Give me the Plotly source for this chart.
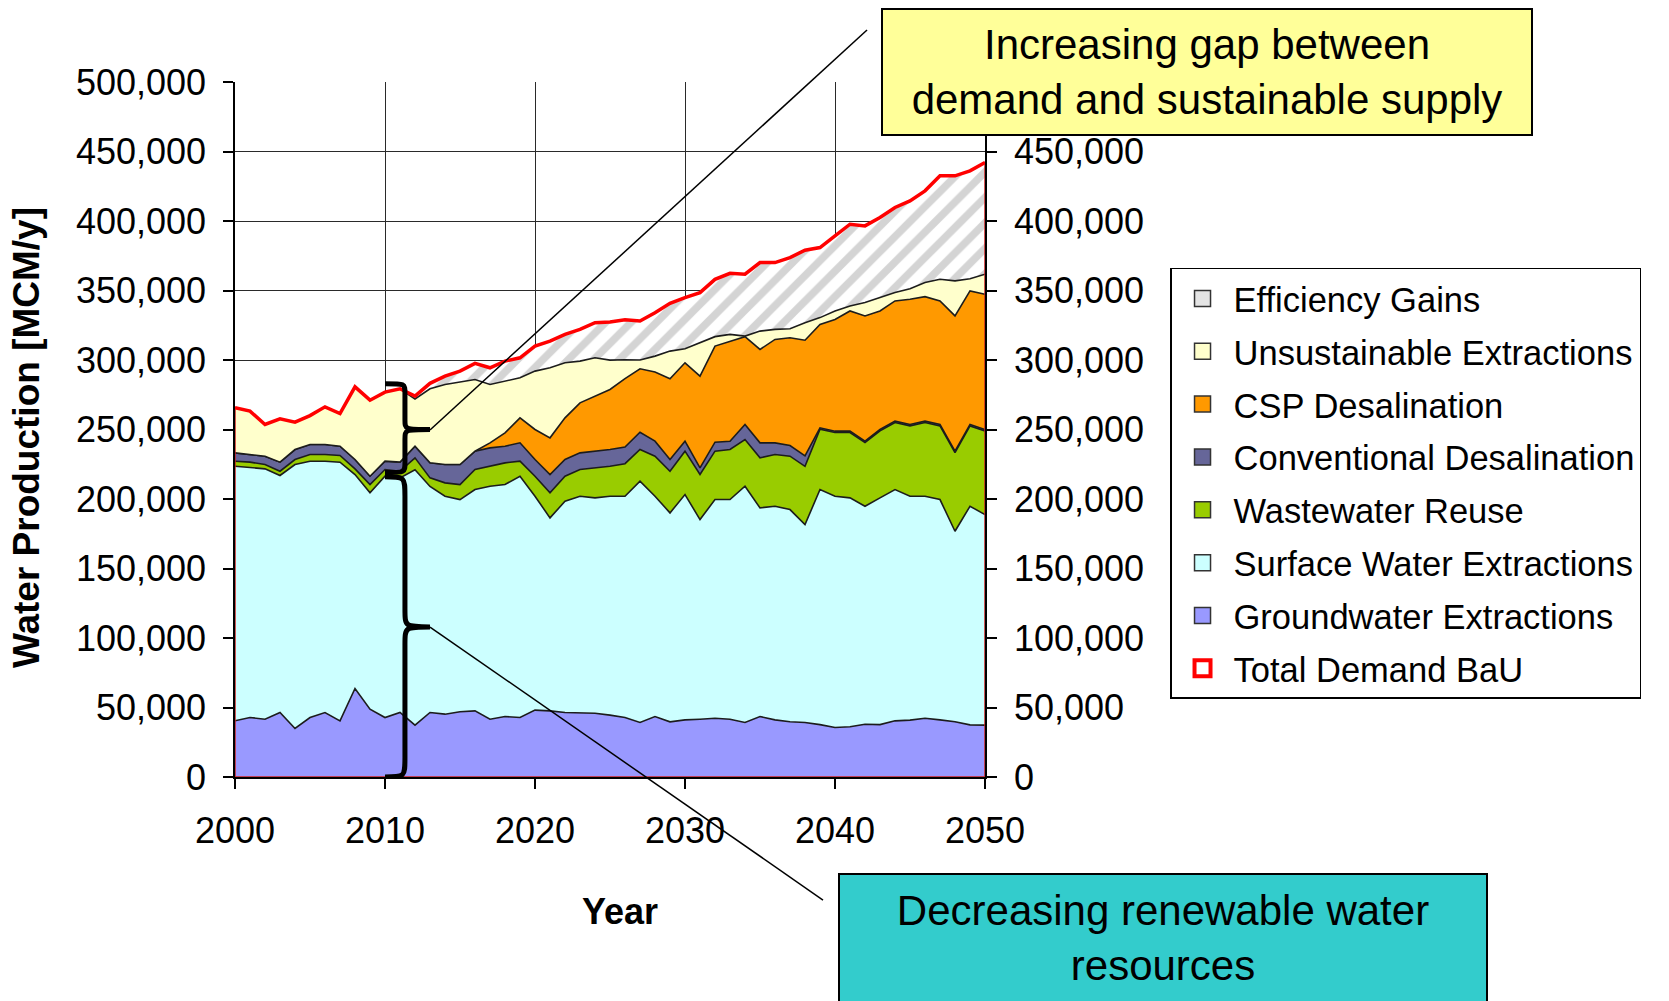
import plotly.graph_objects as go

years = list(range(2000, 2051))

groundwater = [40400, 42800, 41600, 46400, 34900, 42800, 46400, 40400, 63700, 48800,
               42800, 46400, 37300, 46400, 45200, 46900, 47600, 41600, 43500, 42800,
               48100, 47600, 46400, 46400, 45900, 44500, 42800, 39200, 43500, 39700,
               41100, 41600, 42300, 41600, 39200, 43500, 41100, 39700, 39200, 37700,
               35600, 36100, 38000, 37700, 40400, 40900, 42300, 41100, 39700, 37500, 37300]

surface_top = [223600, 222400, 221700, 216900, 224800, 227200, 227200, 226500, 217600, 204400,
               216400, 215200, 221000, 209000, 202000, 199600, 206800, 209200, 210400, 216400,
               202000, 186400, 198400, 202000, 200800, 202000, 202000, 212800, 202000, 190000,
               203200, 185200, 199600, 199600, 209200, 193600, 194800, 192400, 181600, 206800,
               202000, 200800, 194800, 200800, 206800, 202000, 202000, 199600, 176800, 194800, 188800]

wastewater_top = [227200, 226500, 224800, 220000, 228400, 232000, 232000, 231300, 221700, 210400,
                  221200, 220000, 229600, 215200, 211600, 210400, 221200, 223600, 226000, 227200,
                  216400, 204400, 216400, 221200, 222400, 223600, 225400, 235600, 230800, 220000,
                  234400, 217600, 234400, 235600, 242800, 229600, 232000, 230800, 223500, 250200,
                  247800, 247800, 240600, 249000, 255000, 252600, 255000, 252600, 233400, 252600, 249000]

conventional_top = [233200, 232000, 230800, 226500, 235600, 239200, 239200, 238000, 228400, 216400,
                    227200, 226500, 238000, 226000, 224800, 224800, 234400, 236800, 238000, 240400,
                    228400, 217600, 228400, 233200, 234400, 235600, 237400, 248000, 241600, 228400,
                    241600, 222400, 240900, 241600, 253600, 240400, 240400, 238500, 231000, 251200,
                    248800, 248800, 241600, 250000, 256000, 253600, 256000, 253600, 234400, 253600, 250000]

csp_top = [233200, 232000, 230800, 226500, 235600, 239200, 239200, 238000, 228400, 216400,
           227200, 226500, 238000, 226000, 224800, 224800, 234400, 240400, 247600, 258400,
           250000, 244000, 258400, 269200, 274000, 278800, 286600, 293700, 291300, 286500,
           298000, 288400, 310000, 313600, 316800, 307600, 314800, 316000, 314200, 325600,
           329200, 335300, 331700, 335300, 342500, 343700, 345600, 342500, 331700, 349700, 347300]

unsustainable_top = [265600, 263200, 253600, 257700, 255300, 260000, 266300, 261500, 280700, 271100,
                     276900, 279300, 272000, 279300, 282400, 284100, 286000, 282400, 284800, 287200,
                     292000, 294400, 298000, 299200, 301600, 299900, 300200, 300000, 302800, 306400,
                     308100, 312400, 316800, 318400, 317200, 320800, 322000, 322500, 326800, 330500,
                     335300, 338900, 341300, 344900, 348500, 351300, 355700, 358100, 356900, 358500, 361700]

total_demand = [265600, 263200, 253600, 257700, 255300, 260000, 266300, 261500, 280700, 271100,
                276900, 279300, 274000, 283200, 288400, 292000, 297600, 294400, 299200, 301600,
                310000, 313600, 318400, 322000, 326800, 327300, 329000, 328000, 334000, 340800,
                344900, 348500, 358000, 362400, 361700, 370100, 370100, 373700, 379000, 380900,
                389300, 397700, 396500, 402500, 409700, 414500, 421700, 432500, 432500, 436100, 442100]

y_ticks = [0, 50000, 100000, 150000, 200000, 250000, 300000, 350000, 400000, 450000, 500000]
y_ticks_right = [0, 50000, 100000, 150000, 200000, 250000, 300000, 350000, 400000, 450000]
x_ticks = [2000, 2010, 2020, 2030, 2040, 2050]

FONT = "Liberation Sans, Arial, sans-serif"
EDGE = "#1c1c1c"

fig = go.Figure()

layers = [
    ("Groundwater Extractions", groundwater, "#9999FF", "tozeroy"),
    ("Surface Water Extractions", surface_top, "#CCFFFF", "tonexty"),
    ("Wastewater Reuse", wastewater_top, "#99CC00", "tonexty"),
    ("Conventional Desalination", conventional_top, "#666699", "tonexty"),
    ("CSP Desalination", csp_top, "#FF9900", "tonexty"),
    ("Unsustainable Extractions", unsustainable_top, "#FFFFCC", "tonexty"),
]
for name, vals, color, fillmode in layers:
    fig.add_trace(go.Scatter(
        x=years, y=vals, name=name, mode="lines", fill=fillmode,
        fillcolor=color, line=dict(color=EDGE, width=1.6),
        showlegend=False, hoverinfo="skip"))

fig.add_trace(go.Scatter(
    x=years, y=total_demand, name="Efficiency Gains", mode="lines", fill="tonexty",
    fillcolor="white",
    fillpattern=dict(shape="/", bgcolor="white", fgcolor="#a9a9a9", size=18, solidity=0.42),
    line=dict(color="rgba(0,0,0,0)", width=0),
    showlegend=False, hoverinfo="skip"))

# red outline of total demand (sides and bottom)
fig.add_trace(go.Scatter(
    x=[years[0]] + years + [years[-1], years[0]],
    y=[0] + total_demand + [0, 0],
    mode="lines", line=dict(color="#cc2222", width=1.5),
    showlegend=False, hoverinfo="skip"))

fig.add_trace(go.Scatter(
    x=years, y=total_demand, mode="lines", line=dict(color="#FF0000", width=3.5),
    showlegend=False, hoverinfo="skip"))

# legend entries (square swatches as in the reference)
legend_items = [
    ("Efficiency Gains", "#e4e4e4", "square", "#333333", 1.5),
    ("Unsustainable Extractions", "#FFFFCC", "square", "#333333", 1.5),
    ("CSP Desalination", "#FF9900", "square", "#333333", 1.5),
    ("Conventional Desalination", "#666699", "square", "#333333", 1.5),
    ("Wastewater Reuse", "#99CC00", "square", "#333333", 1.5),
    ("Surface Water Extractions", "#CCFFFF", "square", "#333333", 1.5),
    ("Groundwater Extractions", "#9999FF", "square", "#333333", 1.5),
    ("Total Demand BaU", "#FF0000", "square-open", "#FF0000", 4),
]
for i, (name, color, symbol, lc, lw) in enumerate(legend_items):
    fig.add_trace(go.Scatter(
        x=[None], y=[None], name=name, mode="markers", yaxis="y2",
        marker=dict(symbol=symbol, size=22, color=color, line=dict(width=lw, color=lc)),
        legendrank=i + 1, legendgroup=name, hoverinfo="skip"))

axis_common = dict(
    tickfont=dict(family=FONT, size=36, color="black"),
    ticks="outside", ticklen=10, tickcolor="black", tickwidth=1.5,
    showline=True, linecolor="black", linewidth=1.5, zeroline=False,
)

fig.update_layout(
    width=1669, height=1001,
    margin=dict(l=235, r=684, t=82, b=224),
    paper_bgcolor="white", plot_bgcolor="white",
    font=dict(family=FONT, color="black"),
    showlegend=True,
    xaxis=dict(range=[2000, 2050], tickvals=x_ticks, showgrid=True,
               gridcolor="#2a2a2a", gridwidth=1.3, ticklabelstandoff=11, **axis_common),
    yaxis=dict(range=[0, 500000], tickvals=y_ticks, tickformat=",", showgrid=True,
               gridcolor="#2a2a2a", gridwidth=1.3, ticklabelstandoff=10, **axis_common),
    yaxis2=dict(range=[0, 500000], tickvals=y_ticks_right, tickformat=",", overlaying="y",
                side="right", showgrid=False, ticklabelstandoff=10, **axis_common),
    legend=dict(x=1.2467, y=0.7324, xanchor="left", yanchor="top",
                bgcolor="white", bordercolor="black", borderwidth=1.5,
                font=dict(family=FONT, size=34.5, color="black"),
                traceorder="grouped", tracegroupgap=5, itemwidth=52),
)

# braces (annotation graphics)
def brace(top, mid, bottom, r1, r2, x_end=2010, x_bar=2011.33, x_tip=2013):
    return (f"M {x_end},{top} C {x_bar},{top} {x_bar},{top} {x_bar},{top - r1} "
            f"L {x_bar},{mid + r2} C {x_bar},{mid} {x_bar},{mid} {x_tip},{mid} "
            f"C {x_bar},{mid} {x_bar},{mid} {x_bar},{mid - r2} "
            f"L {x_bar},{bottom + r1} C {x_bar},{bottom} {x_bar},{bottom} {x_end},{bottom}")

fig.add_shape(type="path", path=brace(283000, 250000, 219000, 7000, 7000),
              xref="x", yref="y", line=dict(color="black", width=5), layer="above")
fig.add_shape(type="path", path=brace(216000, 108000, 0, 14000, 13000),
              xref="x", yref="y", line=dict(color="black", width=5), layer="above")

fig.add_shape(type="line", xref="paper", yref="paper", x0=0.26, y0=0.4993, x1=0.8427, y1=1.0748,
              line=dict(color="black", width=1.5), layer="above")
fig.add_shape(type="line", xref="paper", yref="paper", x0=0.26, y0=0.2158, x1=0.784, y1=-0.177,
              line=dict(color="black", width=1.5), layer="above")

fig.add_annotation(xref="paper", yref="paper", x=1.296, y=1.014, xanchor="center", yanchor="middle",
                   text="Increasing gap between<br>demand and sustainable supply",
                   showarrow=False, bgcolor="#FFFF99", bordercolor="black", borderwidth=2,
                   borderpad=0, width=648, height=124, align="center",
                   font=dict(family=FONT, size=42, color="black"))
fig.add_annotation(xref="paper", yref="paper", x=1.2373, y=-0.2317, xanchor="center", yanchor="middle",
                   text="Decreasing renewable water<br>resources",
                   showarrow=False, bgcolor="#33CCCC", bordercolor="black", borderwidth=2,
                   borderpad=0, width=646, height=126, align="center",
                   font=dict(family=FONT, size=42, color="black"))

fig.add_annotation(xref="paper", yref="paper", x=0.513, y=-0.194, xanchor="center", yanchor="middle",
                   text="<b>Year</b>", showarrow=False,
                   font=dict(family=FONT, size=36, color="black"))
fig.add_annotation(xref="paper", yref="paper", x=-0.2787, y=0.489, xanchor="center", yanchor="middle",
                   text="<b>Water Production [MCM/y]</b>", textangle=-90, showarrow=False,
                   font=dict(family=FONT, size=37, color="black"))

fig.write_html("out.html")
